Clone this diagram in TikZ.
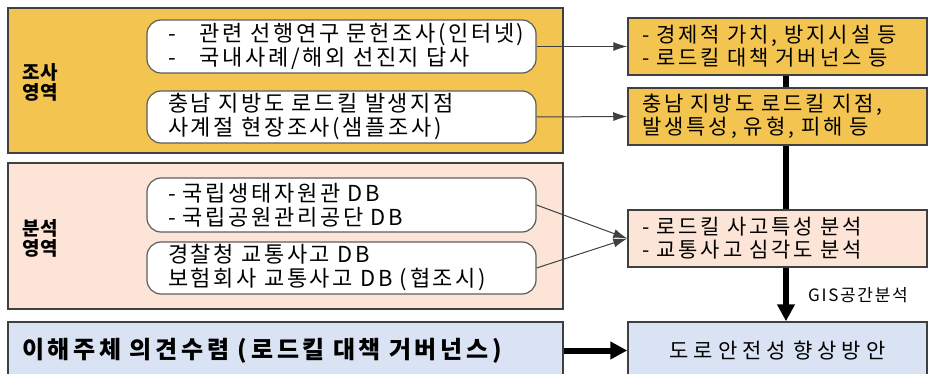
\documentclass[tikz,border=0pt]{standalone}
\usepackage{fontspec}
\setmainfont{Noto Sans CJK KR}
\usetikzlibrary{arrows.meta}
\definecolor{goldfill}{RGB}{243,197,80}
\definecolor{peachfill}{RGB}{252,228,214}
\definecolor{bluefill}{RGB}{218,227,243}
\definecolor{edgegray}{RGB}{64,64,64}
\newcommand\wordgap[1]{\spaceskip=#1\relax}

\begin{document}
\begin{tikzpicture}[x=1pt,y=-1pt,
  area/.style={draw=edgegray,line width=1.5pt,text width=527pt,inner xsep=14pt,inner ysep=0pt,align=left},
  item/.style={draw=edgegray!85,fill=white,rounded corners=14pt,line width=1.2pt,text width=347pt,inner xsep=21pt,inner ysep=0pt,align=left,font=\fontsize{22}{24}\selectfont\addfontfeatures{LetterSpace=12}\wordgap{10pt}},
  result/.style={draw=edgegray,line width=1.5pt,minimum height=57pt,text width=271pt,inner xsep=14pt,inner ysep=0pt,align=left,font=\fontsize{21}{23}\selectfont\addfontfeatures{LetterSpace=14}\wordgap{10pt}},
  arealbl/.style={anchor=west,align=left,font=\fontsize{19}{20}\selectfont\bfseries},
  feed/.style={draw=edgegray,line width=1pt,-{Latex[length=14pt,width=9pt]}},
  flow/.style={draw=black,line width=6pt},
  flowarrow/.style={flow,-{Triangle[length=17pt,width=17pt]}}]
\clip (0,0) rectangle (934,374);
\fill[white] (0,0) rectangle (934,374);
\node[area,fill=goldfill,minimum height=145pt] (survey) at (285.5,80.5) {};
\node[area,fill=peachfill,minimum height=146pt] (analysis) at (285.5,236) {};
\node[area,fill=bluefill,minimum height=57pt,font=\fontsize{24}{25}\selectfont\bfseries\addfontfeatures{LetterSpace=16}\wordgap{16pt}] (opinion) at (285.5,350.5) {이해주체 의견수렴 (로드킬 대책 거버넌스)};
\node[arealbl] (surveylbl) at (19,82) {조사\\영역};
\node[arealbl] (analysislbl) at (19,238) {분석\\영역};
\node[item,minimum height=53pt] (s1) at (341.5,46.5) {\mbox{\makebox[32pt][l]{-}관련 선행연구 문헌조사(인터넷)}\\\makebox[32pt][l]{-}국내사례/해외 선진지 답사};
\node[item,minimum height=52pt] (s2) at (341.5,117) {충남 지방도 로드킬 발생지점\\사계절 현장조사(샘플조사)};
\node[item,minimum height=54pt] (a1) at (341.5,205) {- 국립생태자원관 DB\\- 국립공원관리공단 DB};
\node[item,minimum height=52pt] (a2) at (341.5,268) {경찰청 교통사고 DB\\보험회사 교통사고 DB (협조시)};
\node[result,fill=goldfill] (r1) at (777.5,46.5) {- 경제적 가치, 방지시설 등\\- 로드킬 대책 거버넌스 등};
\node[result,fill=goldfill] (r2) at (777.5,116.5) {충남 지방도 로드킬 지점,\\발생특성, 유형, 피해 등};
\node[result,fill=peachfill] (r3) at (777.5,238.5) {- 로드킬 사고특성 분석\\- 교통사고 심각도 분석};
\node[result,fill=bluefill,align=center,font=\fontsize{21}{23}\selectfont\addfontfeatures{LetterSpace=24}\wordgap{10pt}] (r4) at (777.5,350.5) {도로안전성 향상방안};
\node[font=\fontsize{17}{18}\selectfont\addfontfeatures{LetterSpace=10}] (gis) at (858,295) {GIS공간분석};
\path[feed] (s1.east) -- (r1.west);
\path[feed] (s2.east) -- (r2.west);
\path[feed] (a1.east) -- (r3.west);
\path[feed] (a2.east) -- (r3.west);
\path[flow] ([xshift=8.5pt]r1.south) -- ([xshift=8.5pt]r2.north);
\path[flow] ([xshift=8.5pt]r2.south) -- ([xshift=8.5pt]r3.north);
\path[flowarrow] ([xshift=8.5pt]r3.south) -- ([xshift=8.5pt]r4.north);
\path[flowarrow] (opinion.east) -- (r4.west);
\end{tikzpicture}
\end{document}
